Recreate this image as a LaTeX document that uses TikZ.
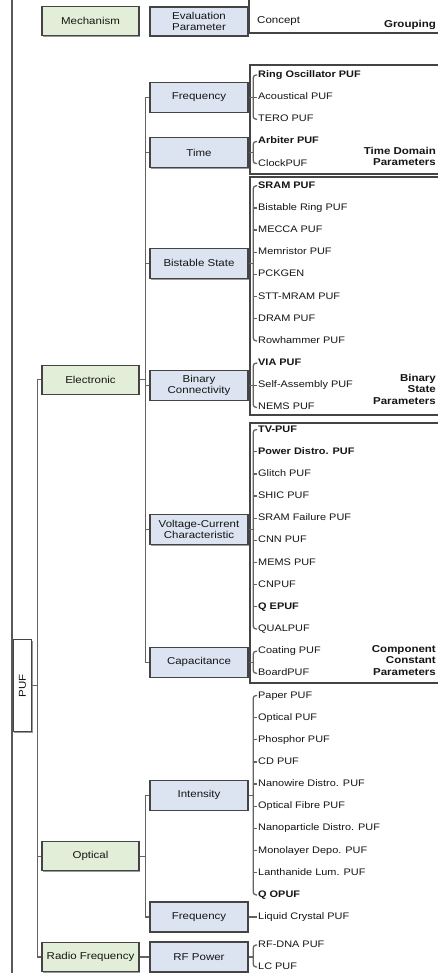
\documentclass[tikz,border=0pt]{standalone}
\usepackage{fontspec}
\setmainfont{Liberation Sans}[FakeStretch=1.15]
\usetikzlibrary{shadows}

\definecolor{mechfill}{HTML}{E2EED7}
\definecolor{evalfill}{HTML}{DCE3F1}
\definecolor{boxline}{HTML}{444444}
\definecolor{linkcol}{HTML}{646464}
\definecolor{txt}{HTML}{151515}

\newcommand\itmfont{\fontsize{9.5}{11}\selectfont}
\newcommand\lblfont{\fontsize{10}{11}\selectfont}
\newcommand\grpfont{\fontsize{10}{11.5}\selectfont\bfseries}

\tikzset{
  boxshadow/.style={drop shadow={shadow xshift=1.2pt, shadow yshift=-1.2pt, opacity=0.4, fill=black}},
  basebox/.style={draw=boxline, line width=1.3pt, align=center, inner sep=1pt, text=txt, font=\lblfont, boxshadow},
  mechbox/.style={basebox, fill=mechfill, minimum width=97pt, minimum height=29pt},
  evalbox/.style={basebox, fill=evalfill, minimum width=98pt, minimum height=30pt},
  groupframe/.style={draw=boxline, line width=1.2pt, fill=white, boxshadow},
  item/.style={anchor=west, inner sep=1pt, text height=7pt, text depth=2pt, font=\itmfont, text=txt},
  itemb/.style={item, font=\itmfont\bfseries},
  grouplabel/.style={anchor=east, align=right, inner sep=1pt, font=\grpfont, text=txt},
  link/.style={draw=linkcol, line width=1.3pt},
  bracket/.style={link, rounded corners=3pt},
}

\begin{document}
\begin{tikzpicture}[x=1pt, y=-1pt]
\useasboundingbox (0,0) rectangle (438,973);
\fill[white] (0,0) rectangle (438,973);
\clip (0,0) rectangle (438,973);

% grouping frames on the right
\draw[groupframe] (249,-5) rectangle (450,33);
\draw[groupframe] (250,65) rectangle (450,174);
\draw[groupframe] (250,177) rectangle (450,415);
\draw[groupframe] (250,423) rectangle (450,683);

% long rule on the left edge
\draw[line width=1.4pt, draw=black!65] (12,0) -- (12,973);

% header row
\node[mechbox] (mechH) at (90.5,21) {Mechanism};
\node[evalbox, minimum height=29pt] (evalH) at (199,21.5) {Evaluation\\Parameter};
\node[anchor=west, inner sep=1pt, font=\lblfont, text=txt] (conceptH) at (256,21) {Concept};
\node[grouplabel] (groupH) at (437,24.5) {Grouping};

% group labels
\node[grouplabel] (gTime) at (437,156.5) {Time Domain\\Parameters};
\node[grouplabel] (gBin) at (437,389) {Binary\\State\\Parameters};
\node[grouplabel] (gComp) at (437,660.5) {Component\\Constant\\Parameters};

% root
\node[basebox, fill=white, minimum width=18.5pt, minimum height=92pt] (puf) at (22.5,685.5) {\rotatebox{90}{PUF}};

% mechanisms
\node[mechbox] (elec) at (90.5,379.7) {Electronic};
\node[mechbox] (opt) at (90.5,856.2) {Optical};
\node[mechbox] (rf) at (90.5,957) {Radio Frequency};

% evaluation parameters
\node[evalbox] (freq) at (199,97.2) {Frequency};
\node[evalbox] (time) at (199,152.6) {Time};
\node[evalbox] (bist) at (199,263.4) {Bistable State};
\node[evalbox] (binc) at (199,385.2) {Binary\\Connectivity};
\node[evalbox] (vc) at (199,529.3) {Voltage-Current\\Characteristic};
\node[evalbox] (cap) at (199,662.2) {Capacitance};
\node[evalbox] (inten) at (199,795.2) {Intensity};
\node[evalbox] (ofreq) at (199,917.1) {Frequency};
\node[evalbox] (rfp) at (199,957) {RF Power};

% concepts
\node[itemb] (it0) at (257,75.0) {Ring Oscillator PUF};
\node[item] (it1) at (257,97.2) {Acoustical PUF};
\node[item] (it2) at (257,119.3) {TERO PUF};
\node[itemb] (it3) at (257,141.5) {Arbiter PUF};
\node[item] (it4) at (257,163.6) {ClockPUF};
\node[itemb] (it5) at (257,185.8) {SRAM PUF};
\node[item] (it6) at (257,208.0) {Bistable Ring PUF};
\node[item] (it7) at (257,230.1) {MECCA PUF};
\node[item] (it8) at (257,252.3) {Memristor PUF};
\node[item] (it9) at (257,274.4) {PCKGEN};
\node[item] (it10) at (257,296.6) {STT-MRAM PUF};
\node[item] (it11) at (257,318.8) {DRAM PUF};
\node[item] (it12) at (257,340.9) {Rowhammer PUF};
\node[itemb] (it13) at (257,363.1) {VIA PUF};
\node[item] (it14) at (257,385.2) {Self-Assembly PUF};
\node[item] (it15) at (257,407.4) {NEMS PUF};
\node[itemb] (it16) at (257,429.6) {TV-PUF};
\node[itemb] (it17) at (257,451.7) {Power Distro. PUF};
\node[item] (it18) at (257,473.9) {Glitch PUF};
\node[item] (it19) at (257,496.0) {SHIC PUF};
\node[item] (it20) at (257,518.2) {SRAM Failure PUF};
\node[item] (it21) at (257,540.4) {CNN PUF};
\node[item] (it22) at (257,562.5) {MEMS PUF};
\node[item] (it23) at (257,584.7) {CNPUF};
\node[itemb] (it24) at (257,606.8) {Q EPUF};
\node[item] (it25) at (257,629.0) {QUALPUF};
\node[item] (it26) at (257,651.2) {Coating PUF};
\node[item] (it27) at (257,673.3) {BoardPUF};
\node[item] (it28) at (257,695.5) {Paper PUF};
\node[item] (it29) at (257,717.6) {Optical PUF};
\node[item] (it30) at (257,739.8) {Phosphor PUF};
\node[item] (it31) at (257,762.0) {CD PUF};
\node[item] (it32) at (257,784.1) {Nanowire Distro. PUF};
\node[item] (it33) at (257,806.3) {Optical Fibre PUF};
\node[item] (it34) at (257,828.4) {Nanoparticle Distro. PUF};
\node[item] (it35) at (257,850.6) {Monolayer Depo. PUF};
\node[item] (it36) at (257,872.8) {Lanthanide Lum. PUF};
\node[itemb] (it37) at (257,894.9) {Q OPUF};
\node[item] (it38) at (257,917.1) {Liquid Crystal PUF};
\node[item] (it39) at (257,945) {RF-DNA PUF};
\node[item] (it40) at (257,967) {LC PUF};

% root to mechanisms
\draw[link] (puf.east) -- ++(5,0) coordinate (mt);
\draw[link] (elec.west) -| (mt) |- (rf.west);
\draw[link] (opt.west) -- (mt |- opt.west);

% mechanisms to evaluation parameters
\draw[link] (elec.east) -- ++(5.5,0) coordinate (et);
\draw[link] (freq.west) -| (et) |- (cap.west);
\foreach \n in {time,bist,binc,vc}
  \draw[link] (\n.west) -- (et |- \n.west);
\draw[link] (opt.east) -- ++(5.5,0) coordinate (ot);
\draw[link] (inten.west) -| (ot) |- (ofreq.west);
\draw[link] (rf.east) -- (rfp.west);

% evaluation parameters to concepts
\draw[link] (freq.east) -- ++(4.5,0) coordinate (bFreq);
\draw[bracket] (it0.west) -| (bFreq) |- (it2.west);
\draw[link] (it1.west) -- (bFreq |- it1.west);

\draw[link] (time.east) -- ++(4.5,0) coordinate (bTime);
\draw[bracket] (it3.west) -| (bTime) |- (it4.west);

\draw[link] (bist.east) -- ++(4.5,0) coordinate (bBist);
\draw[bracket] (it5.west) -| (bBist) |- (it12.west);
\foreach \k in {6,...,11}
  \draw[link] (it\k.west) -- (bBist |- it\k.west);

\draw[link] (binc.east) -- ++(4.5,0) coordinate (bBinc);
\draw[bracket] (it13.west) -| (bBinc) |- (it15.west);
\draw[link] (it14.west) -- (bBinc |- it14.west);

\draw[link] (vc.east) -- ++(4.5,0) coordinate (bVc);
\draw[bracket] (it16.west) -| (bVc) |- (it25.west);
\foreach \k in {17,...,24}
  \draw[link] (it\k.west) -- (bVc |- it\k.west);

\draw[link] (cap.east) -- ++(4.5,0) coordinate (bCap);
\draw[bracket] (it26.west) -| (bCap) |- (it27.west);

\draw[link] (inten.east) -- ++(4.5,0) coordinate (bInt);
\draw[bracket] (it28.west) -| (bInt) |- (it37.west);
\foreach \k in {29,...,36}
  \draw[link] (it\k.west) -- (bInt |- it\k.west);

\draw[link] (ofreq.east) -- (it38.west);

\draw[link] (rfp.east) -- ++(4.5,0) coordinate (bRf);
\draw[bracket] (it39.west) -| (bRf) |- (it40.west);
\end{tikzpicture}
\end{document}
